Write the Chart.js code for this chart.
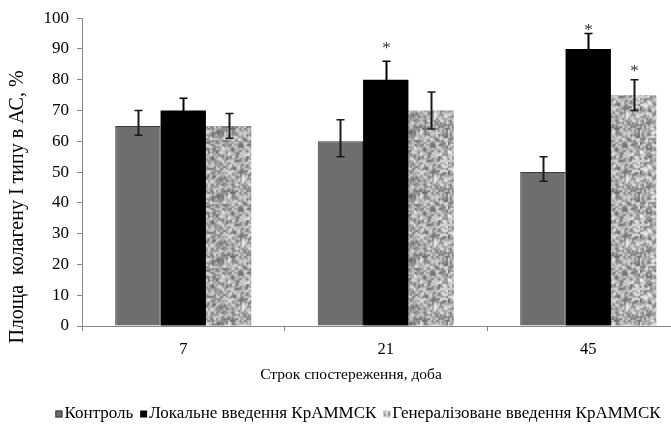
<!DOCTYPE html>
<html><head><meta charset="utf-8">
<script src="https://cdn.jsdelivr.net/npm/chart.js@4.4.0/dist/chart.umd.min.js"></script>
<style>
html,body{margin:0;padding:0;background:#fff;overflow:hidden;width:671px;height:425px}
#wrap{position:relative;width:706px;height:425px}
</style></head>
<body><div id="wrap"><canvas id="c"></canvas></div>
<script>
// ---- data ----
const categories = ['7', '21', '45'];
const seriesNames = ['Контроль', 'Локальне введення КрАММСК', 'Генералізоване введення КрАММСК'];
const controlValues = [65, 60, 50];
const localValues = [70, 80, 90];
const generalValues = [65, 70, 75];
const controlErrUp = [5, 7, 5];
const controlErrDown = [3, 5, 3];
const localErrUp = [4, 6, 5];
const localErrDown = [4, 6, 5];
const generalErrUp = [4, 6, 5];
const generalErrDown = [4, 6, 5];
const controlSig = [null, null, null];
const localSig = [null, 91, 97];
const generalSig = [null, null, 83.5];
const yTickValues = [0, 10, 20, 30, 40, 50, 60, 70, 80, 90, 100];
const xTitle = 'Строк спостереження, доба';
const yTitle = 'Площа  колагену І типу в АС, %';

const FONT = '"Liberation Serif", "Times New Roman", serif';

function makeNoise() {
  const s = 64, lo = 32;
  let seed = 987654;
  const rnd = () => { seed = (seed * 1103515245 + 12345) & 0x7fffffff; return seed / 0x7fffffff; };
  const lc = document.createElement('canvas'); lc.width = lc.height = lo;
  const lg = lc.getContext('2d');
  const img = lg.createImageData(lo, lo);
  for (let i = 0; i < img.data.length; i += 4) {
    const v = Math.round(100 + rnd() * 145);
    img.data[i] = img.data[i + 1] = img.data[i + 2] = v; img.data[i + 3] = 255;
  }
  lg.putImageData(img, 0, 0);
  const c = document.createElement('canvas'); c.width = c.height = s;
  const g = c.getContext('2d');
  g.imageSmoothingEnabled = true;
  g.drawImage(lc, 0, 0, s, s);
  return g.createPattern(c, 'repeat');
}

const errUp = [controlErrUp, localErrUp, generalErrUp];
const errDown = [controlErrDown, localErrDown, generalErrDown];
const sigs = [controlSig, localSig, generalSig];

const errorBars = {
  id: 'errorBars',
  afterDatasetsDraw(chart) {
    const ctx = chart.ctx, y = chart.scales.y;
    ctx.save();
    chart.data.datasets.forEach((ds, di) => {
      const meta = chart.getDatasetMeta(di);
      const col = di === 1 ? '#000' : '#1a1a1a';
      meta.data.forEach((el, i) => {
        const v = ds.data[i];
        const top = y.getPixelForValue(v + errUp[di][i]);
        const bot = y.getPixelForValue(v - errDown[di][i]);
        const x = Math.round(el.x) + 0.5;
        ctx.strokeStyle = col;
        ctx.lineWidth = 2;
        ctx.beginPath(); ctx.moveTo(x, top); ctx.lineTo(x, bot); ctx.stroke();
        ctx.lineWidth = 1.5;
        ctx.beginPath();
        ctx.moveTo(x - 4, top); ctx.lineTo(x + 4, top);
        ctx.moveTo(x - 4, bot); ctx.lineTo(x + 4, bot);
        ctx.stroke();
        const s = sigs[di][i];
        if (s != null) {
          ctx.fillStyle = '#333';
          ctx.font = '17px ' + FONT;
          ctx.textAlign = 'center'; ctx.textBaseline = 'middle';
          ctx.fillText('*', x, y.getPixelForValue(s) + 3);
        }
      });
    });
    ctx.restore();
  }
};

const textsPlugin = {
  id: 'textsPlugin',
  afterDraw(chart) {
    const ctx = chart.ctx;
    ctx.save();
    // y-axis title
    ctx.save();
    ctx.translate(18, 207);
    ctx.rotate(-Math.PI / 2);
    ctx.font = '20px ' + FONT;
    ctx.fillStyle = '#000';
    ctx.textAlign = 'center'; ctx.textBaseline = 'middle';
    ctx.fillText(yTitle, 0, 0);
    ctx.restore();
    // x-axis title
    ctx.font = '15.5px ' + FONT;
    ctx.fillStyle = '#000';
    ctx.textAlign = 'center'; ctx.textBaseline = 'alphabetic';
    ctx.fillText(xTitle, 351, 379);
    // legend
    ctx.font = '17px ' + FONT;
    const box = 7, gap = 2, spacing = 7;
    const widths = seriesNames.map(n => ctx.measureText(n).width);
    const total = widths.reduce((a, w) => a + box + gap + w, 0) + spacing * (seriesNames.length - 1);
    let x = 358 - total / 2;
    const cy = 414;
    chart.data.datasets.forEach((ds, i) => {
      ctx.fillStyle = ds.backgroundColor;
      ctx.fillRect(x, cy - box / 2, box, box);
      if (ds.borderWidth) {
        ctx.strokeStyle = ds.borderColor; ctx.lineWidth = 1;
        ctx.strokeRect(x + 0.5, cy - box / 2 + 0.5, box - 1, box - 1);
      }
      x += box + gap;
      ctx.fillStyle = '#000';
      ctx.textAlign = 'left'; ctx.textBaseline = 'middle';
      ctx.fillText(seriesNames[i], x, cy);
      x += widths[i] + spacing;
    });
    ctx.restore();
  }
};

const noise = makeNoise();

new Chart(document.getElementById('c'), {
  type: 'bar',
  data: {
    labels: categories,
    datasets: [
      { label: seriesNames[0], data: controlValues, backgroundColor: '#6e6e6e', borderColor: '#3a3a3a', borderWidth: 1 },
      { label: seriesNames[1], data: localValues, backgroundColor: '#000000', borderColor: '#000000', borderWidth: 0 },
      { label: seriesNames[2], data: generalValues, backgroundColor: noise, borderColor: '#a0a0a0', borderWidth: 0 }
    ]
  },
  options: {
    responsive: true,
    maintainAspectRatio: false,
    animation: false,
    devicePixelRatio: 1,
    layout: { padding: { top: 12, right: 16.5, left: 0, bottom: 65 } },
    datasets: { bar: { categoryPercentage: 0.672, barPercentage: 1.0 } },
    scales: {
      x: {
        grid: { display: true, drawOnChartArea: false, drawTicks: true, tickLength: 5, color: '#888', offset: true },
        border: { display: true, color: '#888' },
        ticks: { font: { family: FONT, size: 16.5 }, color: '#000', padding: 9 },
        afterFit(s) { s.height = 34; }
      },
      y: {
        min: 0, max: 100,
        afterBuildTicks(s) { s.ticks = yTickValues.map(v => ({ value: v })); },
        grid: { display: true, drawOnChartArea: false, drawTicks: true, tickLength: 5, color: '#888' },
        border: { display: true, color: '#888' },
        ticks: { font: { family: FONT, size: 17 }, color: '#000', padding: 8 },
        afterFit(s) { s.width = 82; }
      }
    },
    plugins: {
      tooltip: { enabled: false },
      title: { display: false },
      legend: { display: false }
    }
  },
  plugins: [errorBars, textsPlugin]
});
</script>
</body></html>
